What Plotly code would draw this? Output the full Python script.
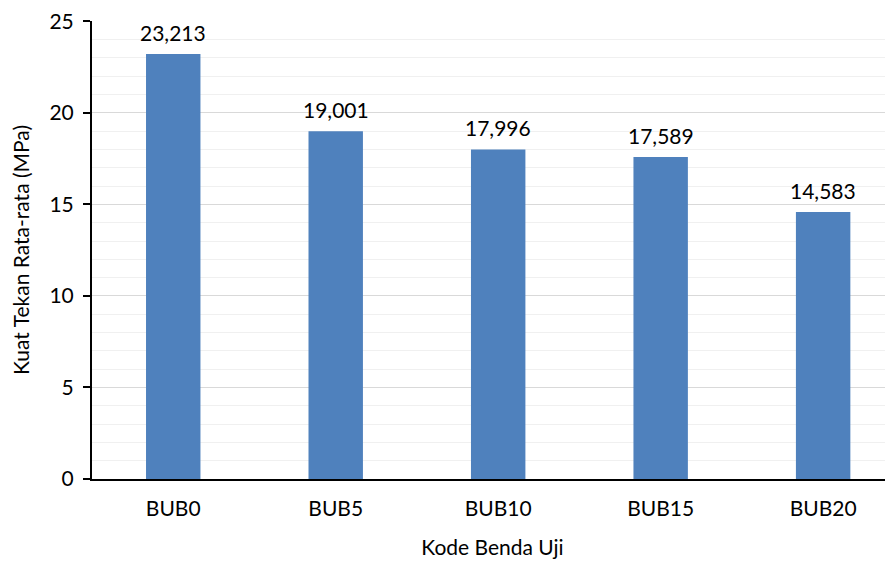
import plotly.graph_objects as go

categories = ["BUB0", "BUB5", "BUB10", "BUB15", "BUB20"]
values = [23.213, 19.001, 17.996, 17.589, 14.583]
y_ticks = [0, 5, 10, 15, 20, 25]

FONT = "Lato"
FS = 21

fig = go.Figure(go.Bar(
    x=categories, y=values,
    marker=dict(color="#4f81bd", line=dict(width=0)),
    width=0.335,
    cliponaxis=False,
))

for c, v in zip(categories, values):
    fig.add_annotation(
        x=c, y=v, text=f"{v:.3f}".replace(".", ","),
        showarrow=False, yanchor="middle", yshift=22,
        font=dict(family=FONT, size=FS, color="#000000"),
    )

fig.update_layout(
    width=893, height=562,
    margin=dict(l=84, r=8, t=13, b=91, autoexpand=False),
    paper_bgcolor="white", plot_bgcolor="white",
    font=dict(family=FONT, size=FS, color="#000000"),
    showlegend=False,
)
fig.update_xaxes(
    range=[-0.5, 4.43], showline=True, linecolor="#000000", linewidth=2,
    ticks="", showgrid=False, automargin=False,
    ticklabelstandoff=10, ticklabeloverflow="allow",
    tickfont=dict(size=FS),
    title=dict(text="Kode Benda Uji", font=dict(size=FS), standoff=21),
)
fig.update_yaxes(
    range=[0, 25.02], tickvals=y_ticks, showline=True, linecolor="#000000", linewidth=2,
    ticks="outside", ticklen=7, tickcolor="#000000", tickwidth=1.5,
    showgrid=True, gridcolor="#d9d9d9", gridwidth=1, zeroline=False,
    minor=dict(dtick=1, showgrid=True, gridcolor="#f0f0f0", gridwidth=1, ticks=""),
    automargin=False, ticklabelstandoff=5, ticklabeloverflow="allow",
    tickfont=dict(size=FS),
    title=dict(text="Kuat Tekan Rata-rata (MPa)", font=dict(size=FS), standoff=17),
)

fig.write_html("out.html")
